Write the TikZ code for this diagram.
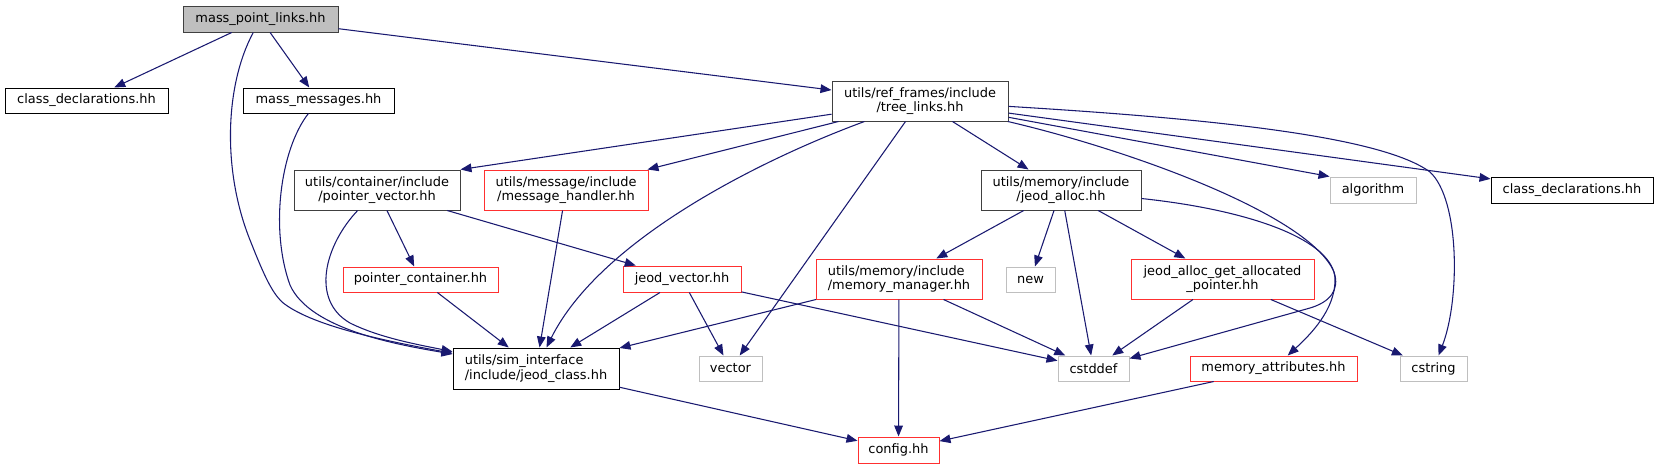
\documentclass[tikz,border=0pt]{standalone}
\usepackage{fontspec}
\setmainfont{DejaVu Sans}
\usetikzlibrary{arrows.meta}
\definecolor{midnight}{HTML}{191970}
\definecolor{sysgray}{HTML}{BFBFBF}
\definecolor{docgray}{HTML}{404040}
\definecolor{truncred}{HTML}{FF3030}
\begin{document}
\begin{tikzpicture}[x=0.75pt, y=-0.75pt,
    hdr/.style={draw=black, fill=white, line width=0.75pt, inner sep=0pt, align=center,
      font=\fontsize{9.7}{10.8}\selectfont, minimum height=18.75pt},
    hdrdoc/.style={hdr, draw=docgray},
    hdrred/.style={hdr, draw=truncred},
    hdrsys/.style={hdr, draw=sysgray},
    incl/.style={draw=midnight, line width=0.8pt, -{Triangle[length=8.25pt,width=6.5pt]}}]
  \useasboundingbox (0,0) rectangle (1659,469);
  \node[hdrdoc, fill=sysgray, minimum width=116.25pt, minimum height=19.5pt] (mpl) at (260.5,19) {mass\_point\_links.hh};
  \node[hdr, minimum width=122.25pt] (cdecl) at (86.5,100.5) {class\_declarations.hh};
  \node[hdr, minimum width=113.25pt] (mmsg) at (318.5,100.5) {mass\_messages.hh};
  \node[hdrdoc, minimum width=132pt, minimum height=30pt] (tlinks) at (920,101) {utils/ref\_frames/include\\/tree\_links.hh};
  \node[hdrdoc, minimum width=124.5pt, minimum height=30pt] (ptrvec) at (377,190) {utils/container/include\\/pointer\_vector.hh};
  \node[hdrred, minimum width=123pt, minimum height=30pt] (msghdl) at (566,190) {utils/message/include\\/message\_handler.hh};
  \node[hdrdoc, minimum width=120pt, minimum height=30pt] (jalloc) at (1061,190) {utils/memory/include\\/jeod\_alloc.hh};
  \node[hdrsys, minimum width=64.5pt, minimum height=19.5pt] (algo) at (1373,190) {algorithm};
  \node[hdr, minimum width=121.5pt, minimum height=19.5pt] (cdecl2) at (1572,190) {class\_declarations.hh};
  \node[hdrred, minimum width=116.25pt] (ptrcont) at (420.5,279.5) {pointer\_container.hh};
  \node[hdrred, minimum width=88.5pt, minimum height=19.5pt] (jvec) at (682,279) {jeod\_vector.hh};
  \node[hdrred, minimum width=124.5pt, minimum height=30pt, align=left] (memmgr) at (899,279) {utils/memory/include\\/memory\_manager.hh};
  \node[hdrsys, minimum width=36.75pt] (new) at (1030.5,279.5) {new};
  \node[hdrred, minimum width=137.25pt, minimum height=30pt] (jagap) at (1222.5,279) {jeod\_alloc\_get\_allocated\\\_pointer.hh};
  \node[hdr, minimum width=124.5pt, minimum height=30.75pt, align=left] (jclass) at (536,368.5) {utils/sim\_interface\\/include/jeod\_class.hh};
  \node[hdrsys, minimum width=47.25pt] (vector) at (730.5,368.5) {vector};
  \node[hdrsys, minimum width=53.25pt] (cstddef) at (1093.5,368.5) {cstddef};
  \node[hdrred, minimum width=125.25pt] (memattr) at (1273.5,368.5) {memory\_attributes.hh};
  \node[hdrsys, minimum width=50.25pt] (cstring) at (1433.5,368.5) {cstring};
  \node[hdrred, minimum width=60.75pt, minimum height=19.5pt] (config) at (898.5,450) {config.hh};
  \foreach \a/\b in {mpl/cdecl, mpl/mmsg, mpl/tlinks, tlinks/msghdl, tlinks/vector, tlinks/jalloc,
      tlinks/cdecl2, ptrvec/ptrcont, ptrvec/jvec, msghdl/jclass, ptrcont/jclass, jvec/jclass,
      jvec/vector, jvec/cstddef, jalloc/memmgr, jalloc/new, jalloc/cstddef, jalloc/jagap,
      memmgr/jclass, memmgr/config, memmgr/cstddef, jagap/cstddef, jagap/cstring,
      jclass/config, memattr/config}
    \draw[incl] (\a) -- (\b);
  \draw[incl] (tlinks) -- (ptrvec.north east);
  \draw[incl] (tlinks) -- (algo.north west);
  \draw[incl] (mpl) .. controls (225,85) and (222,170) .. (250,240)
    .. controls (265,278) and (272,292) .. (282,302) .. controls (310,325) and (380,340) .. (jclass);
  \draw[incl] (mmsg) .. controls (280,150) and (270,230) .. (290,285)
    .. controls (310,330) and (400,345) .. (jclass);
  \draw[incl] (ptrvec) .. controls (325,245) and (310,300) .. (350,323)
    .. controls (380,338) and (420,345) .. (jclass);
  \draw[incl] (tlinks) .. controls (760,160) and (600,240) .. (jclass);
  \draw[incl] (tlinks) .. controls (1130,150) and (1310,215) .. (1334,272)
    .. controls (1340,290) and (1330,302) .. (1310,308) -- (cstddef);
  \draw[incl] (tlinks) .. controls (1200,118) and (1380,135) .. (1430,172)
    .. controls (1460,200) and (1460,300) .. (cstring);
  \draw[incl] (jalloc) .. controls (1250,210) and (1335,240) .. (1335,280)
    .. controls (1335,310) and (1310,335) .. (memattr);
\end{tikzpicture}
\end{document}
